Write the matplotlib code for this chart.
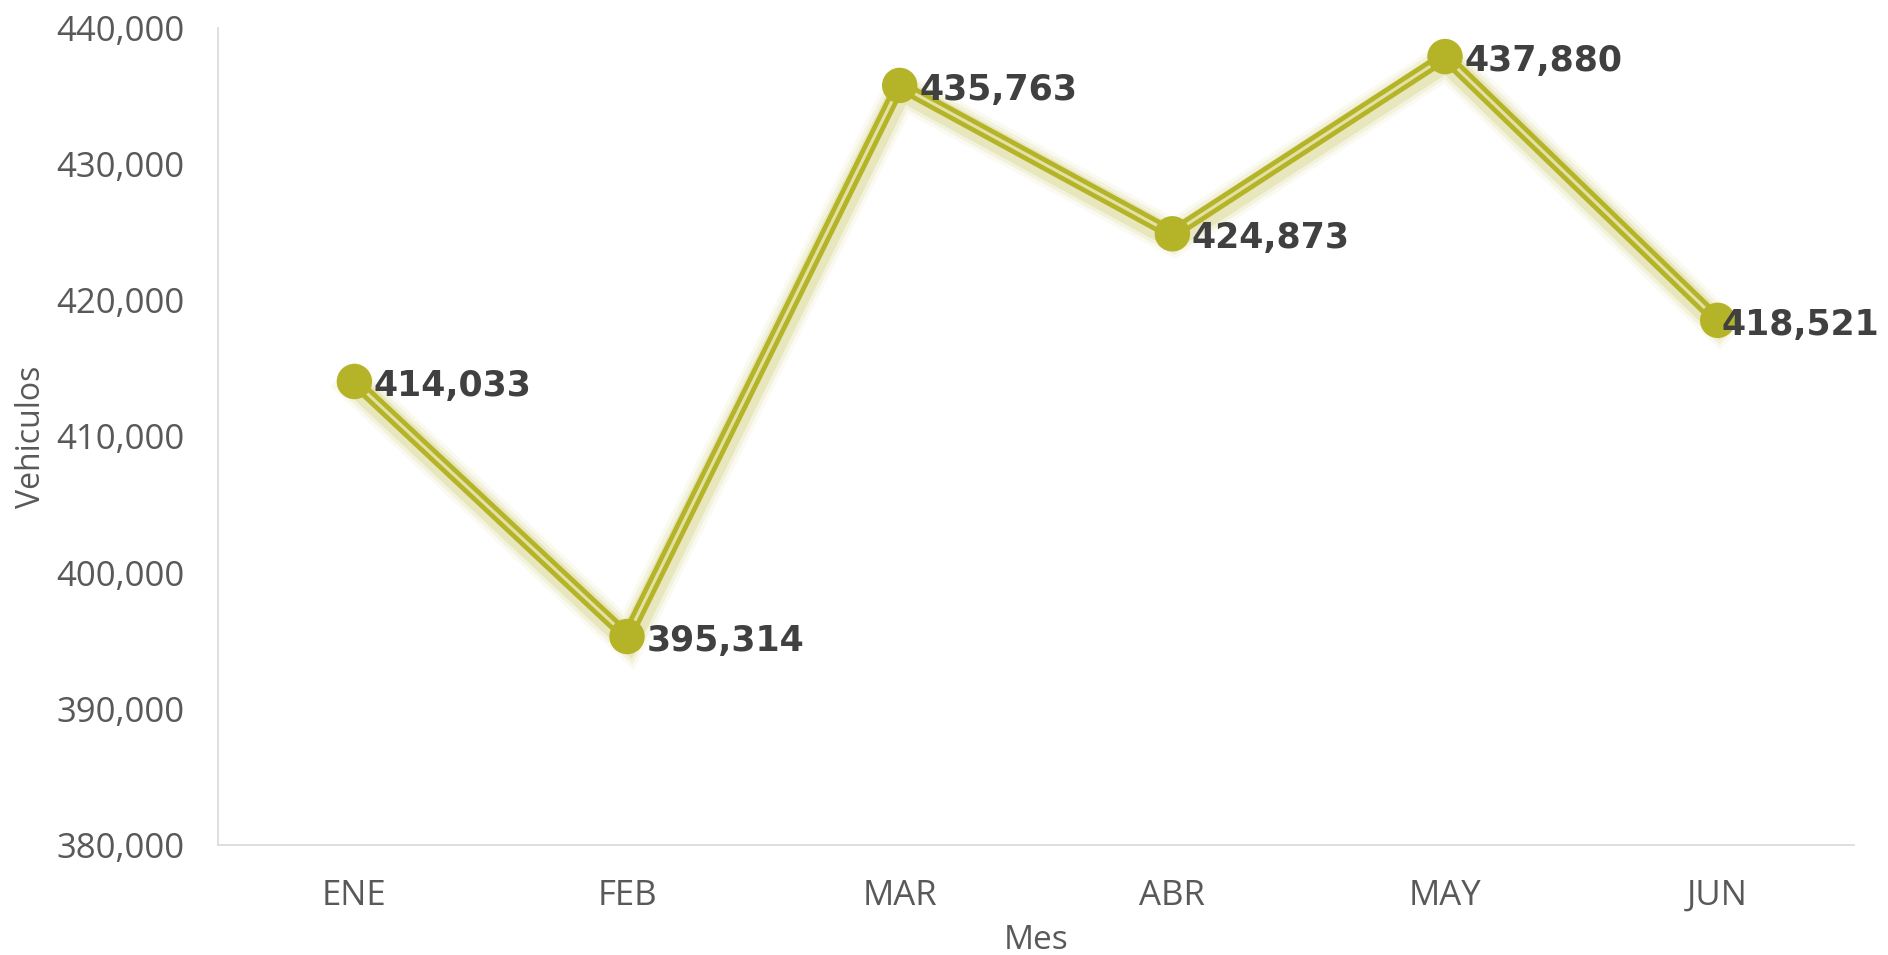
import numpy as np
import matplotlib.pyplot as plt
import matplotlib.patheffects as pe
from matplotlib.ticker import FuncFormatter

# datos
meses = ["ENE", "FEB", "MAR", "ABR", "MAY", "JUN"]
vehiculos = [414033, 395314, 435763, 424873, 437880, 418521]

OLIVA = "#B5B327"
CLARO = "#E3E2A6"

fig = plt.figure(figsize=(18.88, 9.55), dpi=100)
ax = fig.add_axes([0.1155, 0.115, 0.8665, 0.856])

x = np.arange(len(meses))

# resplandor (sombra difusa desplazada hacia abajo)
sombra = [pe.SimpleLineShadow(offset=(1, -3), shadow_color=OLIVA, alpha=a, linewidth=w)
          for w, a in [(26, 0.06), (21, 0.10), (16, 0.18)]]
ax.plot(x, vehiculos, color=OLIVA, lw=9, solid_joinstyle="miter", zorder=2,
        path_effects=sombra + [pe.Normal()])
ax.plot(x, vehiculos, color=CLARO, lw=2.2, solid_joinstyle="miter", zorder=3)

# marcadores
ax.scatter(x, vehiculos, s=650, color=OLIVA, zorder=4, linewidths=0,
           path_effects=[pe.SimpleLineShadow(offset=(1, -3), shadow_color=OLIVA, alpha=0.3),
                         pe.Normal()])

# etiquetas de datos (la ultima se corre hacia el marcador para que quepa)
for xi, v in zip(x, vehiculos):
    dx = 14 if xi < len(meses) - 1 else 3
    ax.annotate(f"{v:,}", (xi, v), xytext=(dx, -3), textcoords="offset points",
                ha="left", va="center", fontsize=25, fontweight="bold",
                color="#404040", family="DejaVu Sans", zorder=5)

ax.set_xlim(-0.5, 5.5)
ax.set_ylim(380000, 440000)
ax.set_yticks(np.arange(380000, 440001, 10000))
ax.yaxis.set_major_formatter(FuncFormatter(lambda v, p: f"{int(v):,}"))
ax.set_xticks(x)
ax.set_xticklabels(meses)

for s in ["top", "right"]:
    ax.spines[s].set_visible(False)
for s in ["left", "bottom"]:
    ax.spines[s].set_color("#D9D9D9")
    ax.spines[s].set_linewidth(1.2)

ax.tick_params(length=0, labelsize=25, colors="#595959")
ax.tick_params(axis="x", pad=24)
ax.tick_params(axis="y", pad=24)
for lab in ax.get_xticklabels() + ax.get_yticklabels():
    lab.set_family("Open Sans")

ax.set_ylabel("Vehiculos", fontsize=23, color="#595959", family="Open Sans", labelpad=6)
ax.set_xlabel("Mes", fontsize=24, color="#595959", family="Open Sans", labelpad=8)

fig.savefig("out.png", dpi=100)
